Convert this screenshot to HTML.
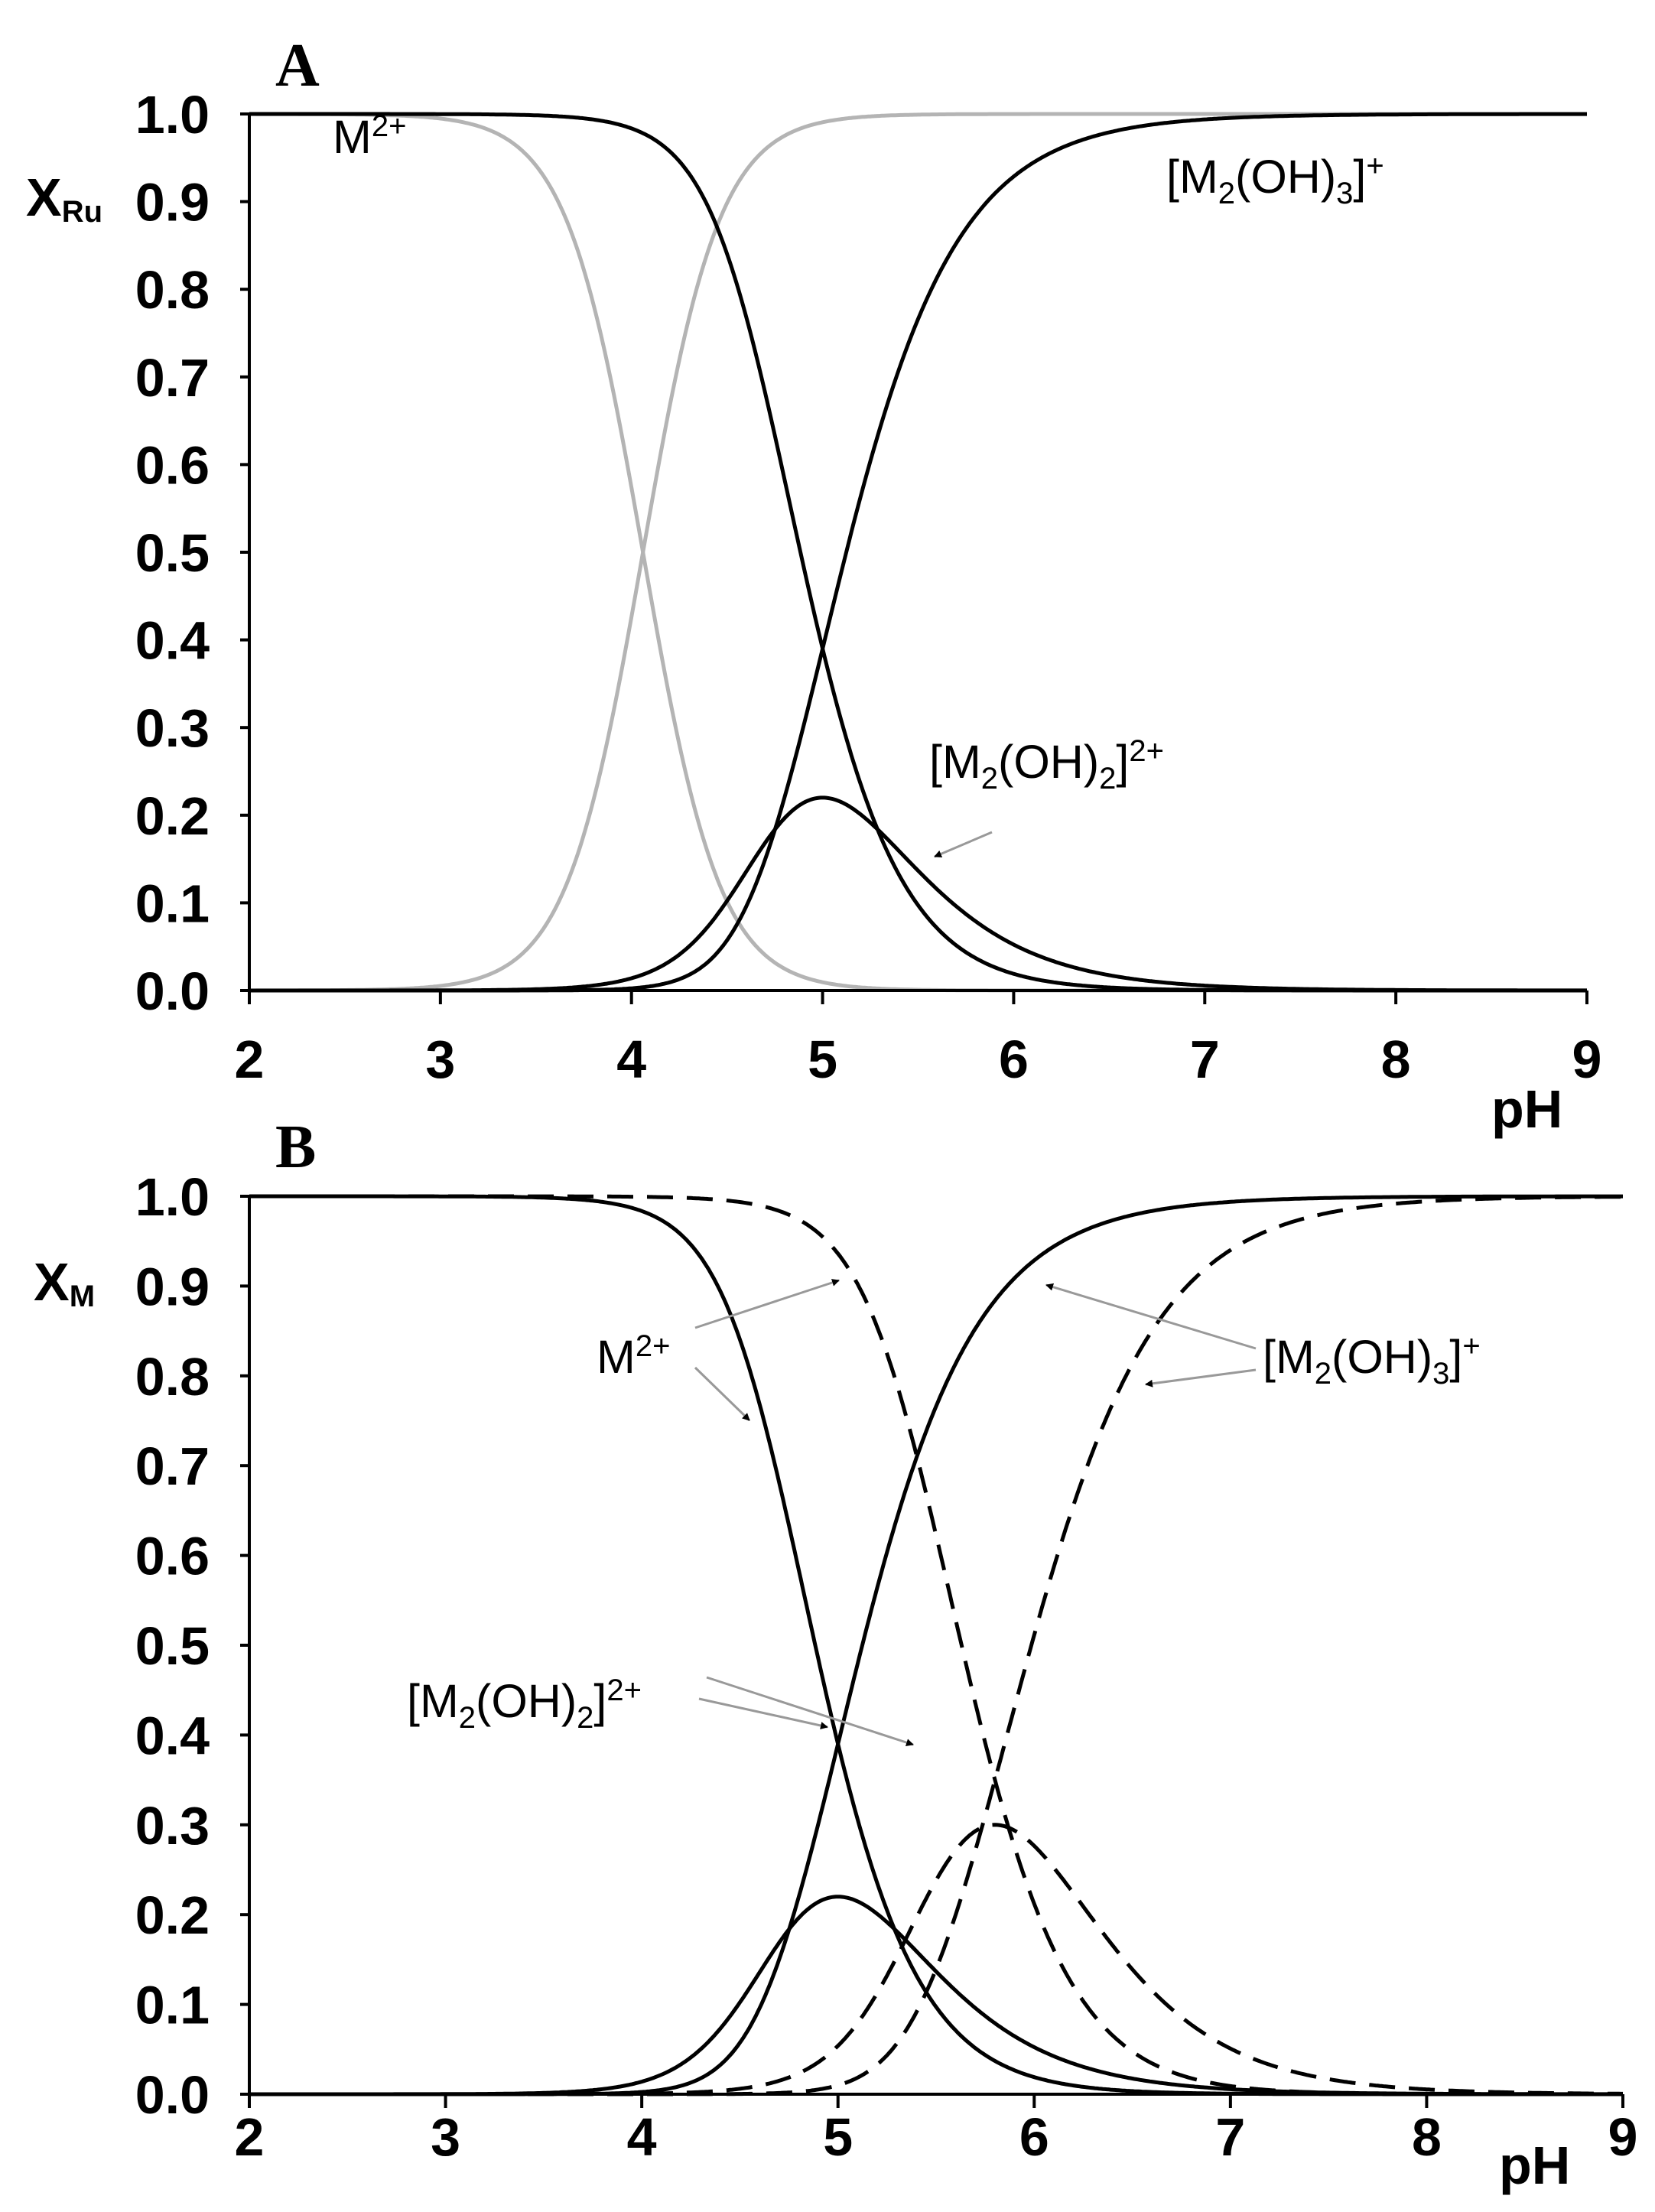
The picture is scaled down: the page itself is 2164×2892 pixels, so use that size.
<!DOCTYPE html>
<html><head><meta charset="utf-8"><style>
html,body{margin:0;padding:0;background:#fff}
svg text{font-family:"Liberation Sans Narrow","Liberation Sans",sans-serif}
.t{font-size:70px;font-weight:bold}
.l{font-size:61px}
</style></head><body>
<svg id="s" width="2164" height="2887" viewBox="0 0 2164 2887" xmlns="http://www.w3.org/2000/svg">
<defs><marker id="ah" markerWidth="10" markerHeight="10" refX="9" refY="5" orient="auto" markerUnits="userSpaceOnUse"><path d="M0,0 L10,5 L0,10z" fill="#000"/></marker></defs>
<g id="g"></g>
<text x="360" y="112" font-weight="bold" font-size="80" style="font-family:'Liberation Serif',serif">A</text>
<text x="360" y="1526" font-weight="bold" font-size="80" style="font-family:'Liberation Serif',serif">B</text>
<text x="34" y="282" class="t">X<tspan font-size="40" dy="8">Ru</tspan></text>
<text x="44" y="1700" class="t">X<tspan font-size="40" dy="8">M</tspan></text>
<text x="1950" y="1474" class="t">pH</text>
<text x="1960" y="2855" class="t">pH</text>
<text x="435" y="200" class="l">M<tspan font-size="40" dy="-22">2+</tspan></text>
<text x="1525" y="252" class="l">[M<tspan font-size="40" dy="14">2</tspan><tspan dy="-14">(OH)</tspan><tspan font-size="40" dy="14">3</tspan><tspan dy="-14">]</tspan><tspan font-size="40" dy="-22">+</tspan></text>
<text x="1215" y="1017" class="l">[M<tspan font-size="40" dy="14">2</tspan><tspan dy="-14">(OH)</tspan><tspan font-size="40" dy="14">2</tspan><tspan dy="-14">]</tspan><tspan font-size="40" dy="-22">2+</tspan></text>
<text x="780" y="1795" class="l">M<tspan font-size="40" dy="-22">2+</tspan></text>
<text x="1651" y="1795" class="l">[M<tspan font-size="40" dy="14">2</tspan><tspan dy="-14">(OH)</tspan><tspan font-size="40" dy="14">3</tspan><tspan dy="-14">]</tspan><tspan font-size="40" dy="-22">+</tspan></text>
<text x="532" y="2245" class="l">[M<tspan font-size="40" dy="14">2</tspan><tspan dy="-14">(OH)</tspan><tspan font-size="40" dy="14">2</tspan><tspan dy="-14">]</tspan><tspan font-size="40" dy="-22">2+</tspan></text>
<g stroke="#999" stroke-width="3" marker-end="url(#ah)" fill="none">
<line x1="1297" y1="1088" x2="1222" y2="1120"/>
<line x1="909" y1="1736" x2="1097" y2="1674"/>
<line x1="909" y1="1788" x2="980" y2="1857"/>
<line x1="1642" y1="1763" x2="1368" y2="1680"/>
<line x1="1642" y1="1791" x2="1498" y2="1810"/>
<line x1="924" y1="2193" x2="1194" y2="2281"/>
<line x1="914" y1="2221" x2="1082" y2="2258"/>
</g>
</svg>
<script>
var g=document.getElementById('g'),NS='http://www.w3.org/2000/svg';
function el(t,a,txt){var e=document.createElementNS(NS,t);for(var k in a)e.setAttribute(k,a[k]);if(txt!=null)e.textContent=txt;g.appendChild(e);return e;}
function panel(x0,x1,y1,y0,xlY,series){
 var X=function(p){return x0+(p-2)*(x1-x0)/7},Y=function(v){return y0-v*(y0-y1)};
 series.forEach(function(s){var d='';for(var p=2;p<=9.0001;p+=0.01){d+=(d?'L':'M')+X(p).toFixed(1)+','+Y(s.f(p)).toFixed(1);}
  var a={d:d,fill:'none',stroke:s.c,'stroke-width':5};if(s.dash)a['stroke-dasharray']='34,18';el('path',a);});
 el('line',{x1:x0,y1:y1,x2:x0,y2:y0,stroke:'#000','stroke-width':4});
 el('line',{x1:x0,y1:y0,x2:x1,y2:y0,stroke:'#000','stroke-width':4});
 for(var i=0;i<=10;i++){var y=Y(i/10);el('line',{x1:x0-12,y1:y,x2:x0,y2:y,stroke:'#000','stroke-width':4});
  el('text',{x:x0-52,y:y+25,'text-anchor':'end','class':'t'},(i/10).toFixed(1));}
 for(var p=2;p<=9;p++){var x=X(p);el('line',{x1:x,y1:y0,x2:x,y2:y0+18,stroke:'#000','stroke-width':4});
  el('text',{x:x,y:xlY,'text-anchor':'middle','class':'t'},p);}
}
function dimer(mid,f0m,f2m){var f3m=1-f0m-f2m,A=f2m/(f0m*f0m),B=f3m/(f0m*f0m);
 function sol(p){var d=p-mid,a=A*Math.pow(10,2*d),b=B*Math.pow(10,3*d),Q=a+b;var f0=(-1+Math.sqrt(1+4*Q))/(2*Q);return[f0,a*f0*f0,b*f0*f0];}
 return[function(p){return sol(p)[0]},function(p){return sol(p)[1]},function(p){return sol(p)[2]}];}
var s=dimer(5,0.39,0.22),d=dimer(5.8,0.35,0.30);
function gf(p){return 1/(1+Math.pow(10,2.15*(p-4.06)))}
panel(326,2075,149,1295,1409,[
 {f:gf,c:'#b4b4b4'},{f:function(p){return 1-gf(p)},c:'#b4b4b4'},
 {f:s[0],c:'#000'},{f:s[1],c:'#000'},{f:s[2],c:'#000'}]);
panel(326,2122,1564,2738,2818,[
 {f:s[0],c:'#000'},{f:s[1],c:'#000'},{f:s[2],c:'#000'},
 {f:d[0],c:'#000',dash:1},{f:d[1],c:'#000',dash:1},{f:d[2],c:'#000',dash:1}]);
</script>
</body></html>
